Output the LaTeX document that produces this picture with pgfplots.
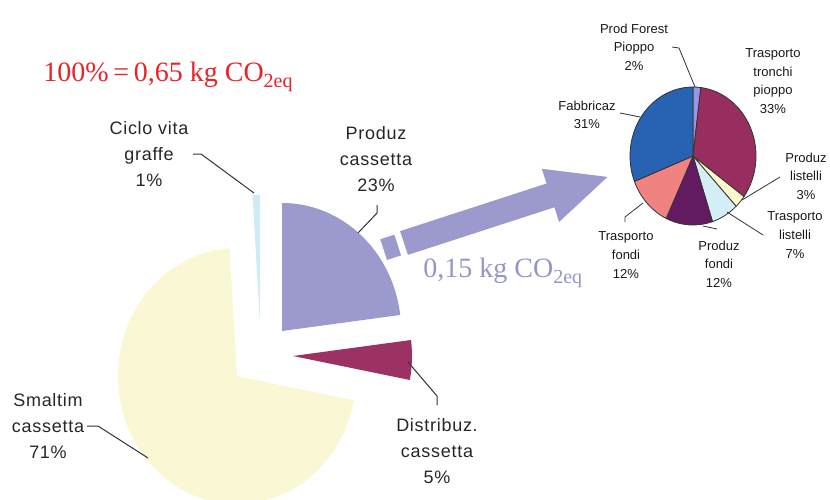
\documentclass[border=0pt]{standalone}
\usepackage{pgfplots}
\pgfplotsset{compat=1.18}
\usepackage{fontspec}
\setmainfont{Liberation Serif}
\newfontfamily\labfont[LetterSpace=4]{Liberation Sans}
\newfontfamily\smallfont{Liberation Sans}

% slice colours, main pie
\definecolor{lavA}{RGB}{156,153,204}
\definecolor{marA}{RGB}{156,50,100}
\definecolor{yelA}{RGB}{250,248,212}
\definecolor{cyaA}{RGB}{205,236,246}
% slice colours, detail pie
\definecolor{lavB}{RGB}{150,150,228}
\definecolor{marB}{RGB}{152,46,96}
\definecolor{yelB}{RGB}{250,250,202}
\definecolor{cyaB}{RGB}{212,238,246}
\definecolor{purB}{RGB}{100,26,96}
\definecolor{salB}{RGB}{240,130,130}
\definecolor{bluB}{RGB}{40,98,178}
\definecolor{titlered}{RGB}{232,36,42}
\definecolor{lavtext}{RGB}{150,148,206}
\definecolor{leader}{RGB}{50,50,50}

% \piechart{cx}{cy}{rx}{ry}{explode}{pct/colour list}{extra fill options}
% one unit of the axis is 0.5pt; slices run clockwise from 12 o'clock
\newcommand{\piechart}[7]{%
  \xdef\pieang{90}%
  \foreach \p/\c in {#6} {%
    \pgfmathsetmacro\a{\pieang}%
    \pgfmathsetmacro\b{\pieang-3.6*\p}%
    \pgfmathsetmacro\m{(\a+\b)/2}%
    \pgfmathsetmacro\ax{#1+#5*cos(\m)}%
    \pgfmathsetmacro\ay{#2-#5*sin(\m)}%
    \edef\temp{\noexpand\filldraw[fill=\c,#7] (axis cs:\ax,\ay) -- ++(\a:{#3*0.5pt} and {#4*0.5pt})
      arc[start angle=\a, end angle=\b, x radius=#3*0.5pt, y radius=#4*0.5pt] -- cycle;}%
    \temp
    \xdef\pieang{\b}%
  }%
}

\begin{document}
\begin{tikzpicture}
\begin{axis}[
  x=0.5pt, y=0.5pt,
  xmin=0, xmax=830, ymin=0, ymax=499,
  y dir=reverse,
  hide axis,
  clip=true,
]
% invisible frame so the whole canvas is kept
\addplot[draw=none, forget plot] coordinates {(0,0) (830,499)};

% main pie: Produz cassetta, Distribuz. cassetta, Smaltim cassetta, Ciclo vita graffe
\piechart{261}{355}{119}{128}{32}{23/lavA, 5/marA, 71/yelA, 1/cyaA}{draw=none}

% arrow from the production slice to the detail pie
\addplot[fill=lavA, draw=white, line width=1.5pt] coordinates {
  (378.2,238.2) (395.4,232.7) (403.1,256.4) (386.0,262.0)} -- cycle;
\addplot[fill=lavA, draw=none] coordinates {
  (400.1,231.1) (546.6,183.5) (541.8,168.8) (607.5,176.9)
  (559.1,222.0) (554.4,207.3) (407.9,254.9)} -- cycle;

% detail pie of the production phase
\piechart{693}{156}{63}{69}{0}{2/lavB, 33/marB, 3/yelB, 7/cyaB, 12/purB, 12/salB, 31/bluB}{draw=leader, line width=0.4pt}

% leader lines, main pie
\addplot[leader, line width=0.5pt] coordinates {(193,154) (201,154) (254,193)};
\addplot[leader, line width=0.5pt] coordinates {(377,205) (377,213) (358,233)};
\addplot[leader, line width=0.5pt] coordinates {(87,426) (98,426) (148,458)};
\addplot[leader, line width=0.5pt] coordinates {(408,362) (437,396) (437,405)};

% leader lines, detail pie
\addplot[leader, line width=0.4pt] coordinates {(672,47) (679,48) (695,87)};
\addplot[leader, line width=0.4pt] coordinates {(620,113) (640,117)};
\addplot[leader, line width=0.4pt] coordinates {(780,177) (742,200)};
\addplot[leader, line width=0.4pt] coordinates {(763,235) (727,212)};
\addplot[leader, line width=0.4pt] coordinates {(717,229) (703,226)};
\addplot[leader, line width=0.4pt] coordinates {(625,222) (625,217) (643,203)};

% headline values
\node[anchor=base west, text=titlered, font=\fontsize{14}{14}\selectfont, inner sep=0pt]
  at (axis cs:43,81) {100\%\,=\,0,65 kg CO\raisebox{-0.5ex}{\fontsize{10}{10}\selectfont 2eq}};
\node[anchor=base west, text=lavtext, font=\fontsize{14}{14}\selectfont, inner sep=0pt]
  at (axis cs:423,277) {0,15 kg CO\raisebox{-0.5ex}{\fontsize{10}{10}\selectfont 2eq}};

% labels, main pie
\begin{scope}[every node/.style={align=center, inner sep=0pt, text=black!85,
    font=\labfont\fontsize{9}{13}\selectfont}]
\node at (axis cs:149,154) {Ciclo vita\\graffe\\1\%};
\node at (axis cs:376,159) {Produz\\cassetta\\23\%};
\node at (axis cs:48,426) {Smaltim\\cassetta\\71\%};
\node at (axis cs:437,451) {Distribuz.\\cassetta\\5\%};
\end{scope}

% labels, detail pie
\begin{scope}[every node/.style={align=center, inner sep=0pt, text=black!90,
    font=\smallfont\fontsize{6.5}{9.3}\selectfont}]
\node at (axis cs:634,47) {Prod Forest\\Pioppo\\2\%};
\node at (axis cs:773,81) {Trasporto\\tronchi\\pioppo\\33\%};
\node at (axis cs:587,115) {Fabbricaz\\31\%};
\node at (axis cs:806,176) {Produz\\listelli\\3\%};
\node at (axis cs:795,235) {Trasporto\\listelli\\7\%};
\node at (axis cs:719,264) {Produz\\fondi\\12\%};
\node at (axis cs:626,255) {Trasporto\\fondi\\12\%};
\end{scope}
\end{axis}
\end{tikzpicture}
\end{document}
